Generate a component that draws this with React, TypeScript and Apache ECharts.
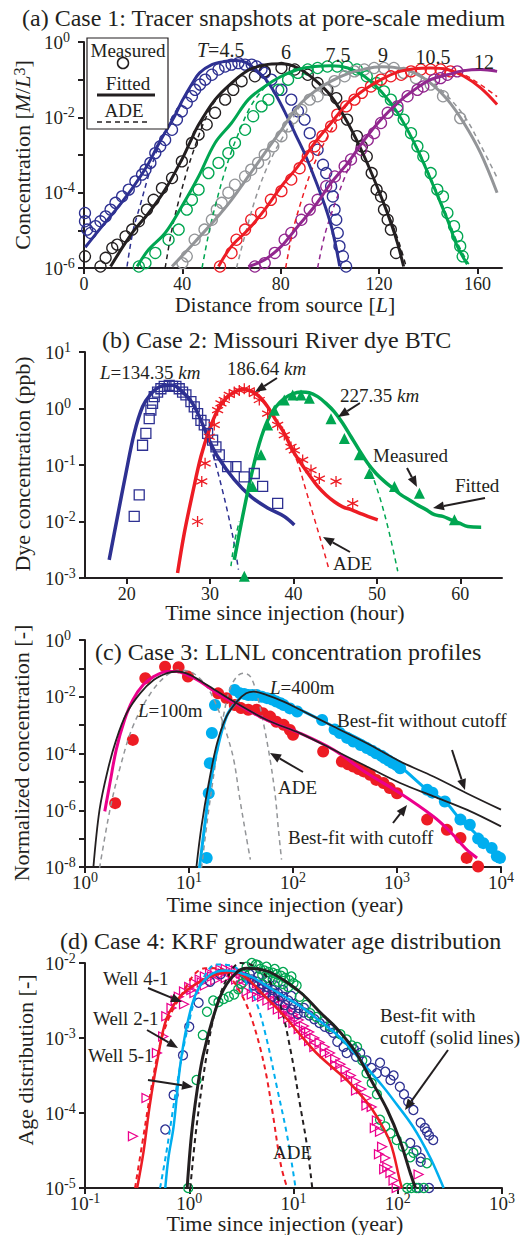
import React, { useEffect, useRef } from 'react';
import * as echarts from 'echarts';

const SERIF = '"Liberation Serif", "Times New Roman", Times, serif';
const INK = '#231f20';
const BLUE = '#2e3192';
const GREEN = '#00a651';
const GRAY = '#939598';
const RED = '#ed1c24';
const PURPLE = '#92278f';
const MAGENTA = '#ec008c';
const CYAN = '#00aeef';

// ---------- Panel (a): [distance, log10(concentration)] ----------
const aXTicks = [0, 40, 80, 120, 160];
const aTimeLabels = ['4.5', '6', '7.5', '9', '10.5', '12'];
const aBlueFit = [[0.5,-5.45],[6,-5.0],[13,-4.45],[20,-3.85],[26,-3.25],[30,-2.75],[33,-2.4],[37,-1.95],[40,-1.55],[44,-1.1],[47,-0.82],[52,-0.6],[57,-0.52],[62,-0.49],[66,-0.55],[70,-0.75],[74,-1.0],[78,-1.4],[82,-1.9],[86,-2.45],[90,-3.0],[94,-3.65],[98,-4.35],[101,-5.0],[104,-5.95]];
const aBlueAde = [[17.5,-5.96],[20,-5.0],[23,-4.3],[26,-3.6],[29,-3.0],[32,-2.5],[35,-2.1],[40,-1.55],[44,-1.1],[47,-0.82],[52,-0.6],[57,-0.52],[62,-0.49],[66,-0.55],[70,-0.75],[74,-1.0],[78,-1.4],[82,-1.9],[86,-2.45],[90,-3.0],[94,-3.65],[98,-4.35],[101,-5.0],[104,-5.95]];
const aBlueMeas = [[0.4,-4.54],[0.4,-4.76],[1.3,-4.98],[2.7,-5.07],[4.7,-4.89],[6.7,-4.76],[8.8,-4.63],[10.8,-4.45],[12.8,-4.27],[15.5,-4.1],[18.2,-3.92],[20.9,-3.7],[23.6,-3.52],[25,-3.39],[27,-3.21],[29,-2.95],[31,-2.77],[33,-2.6],[35.8,-2.33],[37.8,-2.06],[39.8,-1.84],[41.8,-1.62],[43.9,-1.44],[45.2,-1.27],[47.2,-1.13],[49.3,-1.0],[52,-0.87],[54.7,-0.73],[57.4,-0.65],[60,-0.6],[62.8,-0.56],[65.5,-0.6],[68.2,-0.6],[70.2,-0.65],[72.2,-0.73],[73.5,-0.82],[76.2,-1.0],[80.3,-1.27],[84.3,-1.53],[87,-1.84],[89.7,-2.06],[91.8,-2.42],[95,-2.86],[97.2,-3.26],[98.5,-3.48],[100.5,-3.83],[101.2,-4.1],[101.9,-4.45],[102.6,-4.72],[103.2,-5.07],[103.9,-5.42],[105.3,-5.69],[106.6,-5.96]];
const aBlackFit = [[10.8,-5.96],[19.6,-5.07],[26.3,-4.54],[33,-3.92],[39.8,-3.12],[43,-2.68],[46.6,-2.2],[53.3,-1.53],[60,-1.09],[66.8,-0.75],[73.5,-0.61],[80.3,-0.58],[87,-0.69],[93.8,-1.0],[100.5,-1.44],[107.3,-2.15],[114,-3.04],[120.8,-4.1],[124.8,-4.8],[127.5,-5.34],[130,-5.96]];
const aBlackAde = [[33,-6],[36,-4.9],[39,-4.1],[42,-3.4],[45,-2.8],[48,-2.25],[52,-1.7],[56,-1.35],[60,-1.09],[66.8,-0.75],[73.5,-0.61],[80.3,-0.58],[87,-0.69],[93.8,-1.0],[100.5,-1.44],[107.3,-2.15],[114,-3.04],[120.8,-4.1],[125.5,-4.85],[128.5,-5.4],[131,-5.96]];
const aBlackMeas = [[0.4,-5.69],[6.7,-5.96],[8.8,-5.73],[11.5,-5.47],[13.5,-5.38],[16.9,-5.16],[19.6,-4.98],[22.3,-4.76],[25.6,-4.45],[28.3,-4.19],[31.7,-3.88],[35.8,-3.61],[39.8,-3.17],[43.9,-2.68],[46.6,-2.46],[49.9,-2.19],[53.3,-1.88],[57.4,-1.53],[60.7,-1.27],[64.1,-1.04],[69.5,-0.91],[73.5,-0.78],[80.3,-0.69],[85.7,-0.73],[91,-0.87],[95,-1.09],[99,-1.27],[102.6,-1.49],[107,-2.06],[111,-2.5],[113,-2.77],[115,-3.04],[117,-3.48],[119,-3.92],[120.8,-4.1],[122,-4.45],[123.5,-4.72],[124.8,-4.98],[126.9,-5.6]];
const aGreenFit = [[21.6,-5.96],[26.3,-5.51],[33,-5.07],[39.8,-4.36],[46.6,-3.57],[53.3,-2.68],[60,-2.15],[66.8,-1.53],[73.5,-1.18],[80.3,-0.91],[87,-0.73],[93.8,-0.65],[100.5,-0.63],[107.3,-0.69],[114,-0.91],[120.8,-1.31],[127.5,-1.88],[134.3,-2.68],[141,-3.65],[147.8,-4.72],[151.8,-5.42],[155.9,-5.9]];
const aGreenAde = [[48,-6],[51,-5],[54,-4.2],[57,-3.5],[60,-2.9],[63,-2.4],[67,-1.8],[71,-1.4],[75,-1.12],[80.3,-0.91],[87,-0.73],[93.8,-0.65],[100.5,-0.63],[107.3,-0.69],[114,-0.91],[120.8,-1.31],[127.5,-1.88],[134.3,-2.65],[141,-3.6],[147.8,-4.65],[152,-5.35],[156.5,-5.9]];
const aGreenMeas = [[22.3,-5.96],[25,-5.87],[29,-5.6],[34.4,-5.25],[38.5,-4.98],[41.8,-4.45],[43.9,-4.19],[46.6,-3.92],[50.6,-3.48],[54.7,-3.21],[58.7,-2.95],[61.4,-2.68],[65.5,-2.33],[68.8,-1.97],[72.2,-1.71],[75,-1.53],[79,-1.27],[83,-1.0],[87,-0.82],[91,-0.73],[95,-0.69],[99,-0.65],[103,-0.65],[107,-0.65],[111,-0.73],[115,-0.91],[119,-1.09],[122,-1.31],[124.8,-1.53],[127.5,-1.8],[130,-2.06],[133,-2.42],[135.6,-2.77],[138,-3.04],[141,-3.48],[143.7,-3.92],[146,-4.1],[147.8,-4.54],[150.5,-4.89],[151.8,-5.16],[153,-5.42],[154,-5.69]];
const aGrayFit = [[35.8,-5.96],[41,-5.6],[46.6,-5.2],[53.3,-4.72],[60,-4.19],[66.8,-3.57],[73.5,-2.95],[80.3,-2.33],[87,-1.71],[93.8,-1.31],[100.5,-1.04],[107.3,-0.84],[114,-0.72],[120.8,-0.66],[127.5,-0.69],[134.3,-0.82],[141,-1.09],[147.8,-1.53],[154.5,-2.15],[161.3,-2.95],[168,-4.0]];
const aGrayAde = [[62,-6],[66,-5],[70,-4.1],[74,-3.4],[78,-2.85],[82,-2.4],[86,-1.9],[90,-1.5],[93.8,-1.31],[100.5,-1.04],[107.3,-0.84],[114,-0.72],[120.8,-0.66],[127.5,-0.69],[134.3,-0.8],[141,-1.05],[148,-1.45],[155,-2.0],[161,-2.7],[168,-3.6]];
const aGrayMeas = [[40,-5.87],[41.8,-5.69],[45,-5.25],[49,-4.98],[52,-4.72],[54,-4.45],[56,-4.27],[58.7,-4.0],[61.4,-3.79],[65.5,-3.57],[68,-3.39],[70.8,-3.21],[73.5,-2.99],[77,-2.77],[80.3,-2.5],[83,-2.24],[85,-2.02],[88.4,-1.8],[91.8,-1.53],[95,-1.44],[98.5,-1.27],[101.9,-1.04],[106,-0.91],[110,-0.78],[114,-0.73],[118,-0.69],[122,-0.69],[126,-0.69],[130,-0.82],[135,-0.96],[141,-1.13],[146,-1.44],[153,-2.02]];
const aRedFit = [[54.7,-5.96],[60,-5.42],[66.8,-4.98],[73.5,-4.45],[80.3,-3.83],[87,-3.3],[93.8,-2.68],[100.5,-2.15],[107.3,-1.62],[114,-1.27],[120.8,-1.0],[127.5,-0.8],[134.3,-0.71],[141,-0.69],[147.8,-0.73],[154.5,-0.91],[161.3,-1.22],[168,-1.66]];
const aRedAde = [[82,-6],[85,-5],[88,-4.3],[92,-3.5],[96,-2.9],[100,-2.4],[104,-1.95],[108,-1.6],[114,-1.27],[120.8,-1.0],[127.5,-0.8],[134.3,-0.71],[141,-0.69],[147.8,-0.72],[155,-0.88],[161,-1.12],[168,-1.45]];
const aRedMeas = [[55.3,-5.96],[60,-5.6],[62,-5.25],[65.5,-4.98],[68,-4.72],[72,-4.54],[76,-4.19],[80.3,-3.96],[84.3,-3.65],[87.7,-3.35],[91,-3.04],[93.8,-2.77],[97,-2.5],[100.5,-2.24],[103,-1.93],[106.6,-1.71],[110,-1.53],[113,-1.35],[116.7,-1.18],[120.8,-1.0],[124.8,-0.91],[129,-0.87],[133,-0.78],[137,-0.73],[141,-0.73],[145,-0.73],[149,-0.78]];
const aPurpleFit = [[66.8,-5.96],[73.5,-5.78],[80.3,-5.42],[87,-4.89],[93.8,-4.36],[100.5,-3.74],[107.3,-3.21],[114,-2.6],[120.8,-2.06],[127.5,-1.62],[134.3,-1.27],[141,-1.0],[147.8,-0.87],[154.5,-0.76],[161.3,-0.73],[168,-0.78]];
const aPurpleAde = [[95,-6],[98,-5.1],[102,-4.3],[106,-3.6],[110,-3.0],[114,-2.6],[120.8,-2.06],[127.5,-1.62],[134.3,-1.27],[141,-1.0],[147.8,-0.86],[154.5,-0.75],[161.3,-0.72],[168,-0.76]];
const aPurpleMeas = [[69.5,-5.96],[73.5,-5.87],[77.6,-5.6],[81.6,-5.25],[84.3,-5.07],[88.4,-4.72],[91.8,-4.45],[95,-4.19],[98.5,-3.83],[102,-3.57],[106,-3.3],[108.6,-3.12],[112.7,-2.86],[115.4,-2.6],[118,-2.42],[120.8,-2.15],[123.5,-1.88],[127.5,-1.71],[131.6,-1.44],[135.6,-1.27],[138,-1.18],[142.4,-1.0],[145,-0.96],[147.8,-0.87],[151.8,-0.78]];

// ---------- Panel (b): [hour, log10(ppb)] ----------
const bXTicks = [20, 30, 40, 50, 60];
const bBlueFit = [[17.9,-2.68],[18.9,-1.91],[19.9,-1.15],[20.9,-0.44],[21.9,0.03],[22.9,0.26],[23.9,0.38],[24.9,0.41],[25.5,0.41],[26.5,0.32],[27.9,0.09],[28.9,-0.21],[29.9,-0.56],[30.9,-0.85],[32.9,-1.26],[34.9,-1.56],[36.9,-1.76],[38.9,-1.91],[40.1,-2.06]];
const bBlueAde = [[28.9,-0.21],[29.9,-0.6],[30.6,-0.95],[31.4,-1.4],[32.2,-1.9],[32.9,-2.4],[33.4,-2.85]];
const bBlueMeas = [[20.9,-1.91],[21.5,-1.53],[21.9,-0.65],[22.3,-0.44],[22.7,-0.18],[22.9,-0.03],[23.1,0.09],[23.3,0.21],[23.7,0.29],[24.1,0.35],[24.5,0.39],[25.1,0.41],[25.5,0.39],[25.9,0.39],[26.3,0.35],[26.7,0.29],[27.1,0.24],[27.7,0.12],[28.1,0.03],[28.5,-0.09],[28.9,-0.21],[29.3,-0.29],[29.7,-0.44],[30.3,-0.56],[30.7,-0.68],[31.1,-0.82],[32.1,-1.03],[33.1,-1.03],[34.1,-1.21],[35.3,-1.15],[36.3,-1.38],[38.1,-1.68]];
const bRedFit = [[26.1,-2.91],[26.9,-2.21],[27.9,-1.5],[28.9,-0.85],[29.9,-0.38],[30.9,-0.03],[31.9,0.18],[32.9,0.29],[33.9,0.34],[34.9,0.31],[35.9,0.21],[36.9,0.03],[37.9,-0.21],[38.9,-0.44],[39.9,-0.74],[40.9,-0.97],[41.9,-1.18],[42.9,-1.38],[43.9,-1.53],[44.9,-1.65],[45.9,-1.74],[46.9,-1.79],[47.9,-1.85],[48.9,-1.91],[50.1,-1.97]];
const bRedAde = [[39.9,-0.74],[40.6,-1.0],[41.5,-1.45],[42.5,-1.95],[43.5,-2.45],[44.2,-2.82]];
const bRedMeas = [[28.5,-2.0],[29,-1.29],[29.4,-0.97],[29.9,-0.5],[30.5,-0.29],[30.9,-0.03],[31.3,0.09],[31.7,0.15],[32.3,0.24],[32.9,0.29],[33.5,0.32],[34.1,0.35],[34.7,0.32],[35.3,0.26],[35.9,0.15],[36.9,-0.09],[38.1,-0.29],[38.9,-0.47],[39.7,-0.68],[40.1,-0.74],[41.1,-0.91],[42.1,-1.09],[43.1,-1.24],[45.1,-1.29],[47.1,-1.68]];
const bGreenFit = [[32.9,-2.68],[33.9,-1.91],[34.9,-1.21],[35.9,-0.62],[36.9,-0.21],[37.9,0.03],[38.9,0.18],[39.9,0.26],[40.9,0.29],[41.9,0.28],[42.9,0.21],[43.9,0.09],[44.9,-0.06],[45.9,-0.26],[46.9,-0.5],[47.9,-0.74],[48.9,-0.97],[49.9,-1.15],[50.9,-1.29],[51.9,-1.41],[52.9,-1.53],[53.9,-1.62],[54.9,-1.71],[55.9,-1.79],[56.9,-1.88],[57.9,-1.91],[58.9,-1.97],[59.9,-2.03],[60.9,-2.09],[62.5,-2.1]];
const bGreenAdeRise = [[32.5,-2.79],[32.9,-2.38],[33.5,-2.0]];
const bGreenAdeFall = [[48.9,-0.97],[49.5,-1.2],[50.4,-1.6],[51.4,-2.15],[52.5,-2.88]];
const bGreenMeas = [[34.1,-2.97],[35.1,-1.38],[36.1,-0.82],[36.9,-0.29],[37.7,-0.03],[38.9,0.15],[39.9,0.24],[40.9,0.24],[41.9,0.18],[44.5,-0.18],[46.1,-0.53],[47.9,-0.82],[49.1,-1.15],[52.1,-1.38],[55.1,-1.5],[59.3,-1.97]];

// ---------- Panel (c): [log10(year), log10(C)] ----------
const cMagentaFit = [[0.19,-6.04],[0.24,-5.04],[0.3,-3.87],[0.38,-2.82],[0.46,-2.11],[0.56,-1.58],[0.66,-1.29],[0.79,-1.11],[0.88,-1.11],[0.98,-1.23],[1.11,-1.47],[1.27,-1.88],[1.43,-2.2],[1.75,-2.82],[2.07,-3.29],[2.39,-3.87],[2.71,-4.69],[3.03,-5.4],[3.35,-6.22],[3.51,-6.75],[3.67,-7.39],[3.77,-7.68]];
const cBlack100 = [[0.08,-8.04],[0.14,-5.98],[0.22,-4.57],[0.3,-3.52],[0.4,-2.58],[0.53,-1.88],[0.66,-1.41],[0.79,-1.17],[0.88,-1.11],[1.01,-1.23],[1.17,-1.58],[1.43,-2.17],[1.75,-2.82],[2.07,-3.29],[2.39,-3.87],[2.71,-4.46],[3.03,-5.04],[3.35,-5.51],[3.67,-5.98],[4.0,-6.57]];
const cBlack400 = [[1.07,-8.04],[1.12,-6.57],[1.19,-5.04],[1.27,-3.64],[1.36,-2.7],[1.46,-2.17],[1.55,-1.88],[1.62,-1.82],[1.75,-1.94],[1.91,-2.17],[2.07,-2.46],[2.39,-3.05],[2.71,-3.64],[3.03,-4.28],[3.35,-4.81],[3.67,-5.4],[4.0,-5.98]];
const cCyanFit = [[1.1,-8.04],[1.15,-6.57],[1.2,-5.16],[1.27,-3.87],[1.36,-2.7],[1.46,-2.17],[1.55,-1.94],[1.68,-1.94],[1.91,-2.23],[2.07,-2.46],[2.39,-3.05],[2.71,-3.64],[3.03,-4.46],[3.29,-5.28],[3.46,-5.69],[3.61,-6.33],[3.75,-6.8],[3.83,-7.16],[3.93,-7.5],[4.0,-7.74]];
const cAde100 = [[0.14,-8.04],[0.24,-5.98],[0.34,-4.46],[0.46,-3.05],[0.63,-1.88],[0.79,-1.23],[0.91,-1.06],[1.04,-1.17],[1.17,-1.64],[1.27,-2.35],[1.36,-3.28],[1.43,-4.22],[1.49,-5.63],[1.55,-6.92],[1.59,-7.74]];
const cAde400 = [[1.12,-8.04],[1.19,-5.98],[1.27,-3.99],[1.33,-2.7],[1.39,-1.76],[1.46,-1.29],[1.52,-1.17],[1.59,-1.29],[1.65,-1.88],[1.71,-2.82],[1.78,-4.22],[1.83,-5.51],[1.86,-6.69],[1.89,-7.74]];
const cRedMeas = [[0.29,-5.75],[0.46,-3.52],[0.58,-1.35],[0.77,-0.94],[0.9,-0.96],[0.99,-1.29],[1.28,-1.88],[1.36,-2.05],[1.44,-2.29],[1.5,-2.4],[1.57,-2.46],[1.65,-2.46],[1.71,-2.58],[1.78,-2.7],[1.84,-2.88],[1.91,-2.99],[1.97,-3.17],[2.0,-3.34],[2.29,-3.93],[2.47,-4.28],[2.53,-4.38],[2.58,-4.46],[2.63,-4.55],[2.68,-4.63],[2.74,-4.75],[2.8,-4.93],[2.87,-5.04],[2.93,-5.22],[3.0,-5.4],[3.29,-6.33],[3.48,-6.69],[3.61,-6.98],[3.67,-7.68],[3.78,-7.98]];
const cCyanMeas = [[1.17,-7.68],[1.19,-5.4],[1.2,-4.34],[1.22,-3.28],[1.25,-2.29],[1.44,-1.76],[1.49,-1.88],[1.53,-1.9],[1.57,-1.94],[1.61,-1.94],[1.65,-1.94],[1.7,-2.0],[1.75,-2.05],[1.8,-2.1],[1.84,-2.17],[1.88,-2.23],[1.91,-2.29],[1.97,-2.41],[2.04,-2.52],[2.28,-2.82],[2.4,-3.15],[2.45,-3.28],[2.52,-3.45],[2.58,-3.58],[2.65,-3.7],[2.71,-3.81],[2.76,-3.9],[2.8,-3.99],[2.85,-4.08],[2.88,-4.16],[2.92,-4.25],[2.96,-4.34],[3.0,-4.42],[3.03,-4.52],[3.29,-5.28],[3.34,-5.38],[3.46,-5.69],[3.61,-6.33],[3.7,-6.51],[3.78,-7.0],[3.83,-7.16],[3.91,-7.33],[3.96,-7.62],[3.99,-7.68]];

// ---------- Panel (d): [log10(year), log10(age distribution)] ----------
const dRedFit = [[-0.5,-5.0],[-0.44,-4.53],[-0.38,-3.91],[-0.31,-3.33],[-0.22,-2.75],[-0.09,-2.45],[0.04,-2.3],[0.17,-2.2],[0.3,-2.14],[0.42,-2.12],[0.55,-2.2],[0.68,-2.38],[0.81,-2.56],[0.94,-2.75],[1.06,-2.95],[1.22,-3.2],[1.38,-3.4],[1.54,-3.6],[1.7,-3.85],[1.8,-4.05],[1.93,-4.4],[2.02,-4.9],[2.04,-5.0]];
const dRedAde = [[-0.52,-5.0],[-0.45,-4.4],[-0.38,-3.8],[-0.3,-3.2],[-0.2,-2.75],[-0.06,-2.39],[0.05,-2.15],[0.15,-2.07],[0.28,-2.07],[0.4,-2.2],[0.5,-2.42],[0.55,-2.56],[0.61,-2.79],[0.68,-3.13],[0.74,-3.5],[0.8,-4.0],[0.88,-4.7],[0.94,-5.0]];
const dCyanFit = [[-0.23,-5.0],[-0.2,-4.6],[-0.15,-4.18],[-0.09,-3.4],[-0.02,-2.82],[0.07,-2.39],[0.2,-2.16],[0.35,-2.1],[0.46,-2.12],[0.62,-2.2],[0.77,-2.33],[0.93,-2.46],[1.09,-2.6],[1.25,-2.77],[1.42,-2.96],[1.54,-3.13],[1.7,-3.39],[1.86,-3.65],[1.96,-3.83],[2.15,-4.19],[2.31,-4.59],[2.41,-4.9],[2.44,-5.0]];
const dCyanAde = [[-0.28,-5.0],[-0.22,-4.53],[-0.12,-3.64],[-0.02,-2.9],[0.1,-2.31],[0.26,-2.02],[0.42,-2.04],[0.55,-2.27],[0.65,-2.55],[0.74,-3.0],[0.84,-3.65],[0.94,-4.31],[1.02,-5.0]];
const dBlackFit = [[-0.02,-5.0],[0.02,-4.31],[0.07,-3.75],[0.13,-3.25],[0.23,-2.72],[0.33,-2.35],[0.46,-2.12],[0.55,-2.07],[0.66,-2.08],[0.77,-2.12],[0.93,-2.25],[1.09,-2.42],[1.25,-2.65],[1.42,-2.88],[1.54,-3.08],[1.61,-3.22],[1.76,-3.6],[1.9,-3.96],[2.02,-4.36],[2.12,-4.8],[2.17,-5.0]];
const dBlackAde = [[0.01,-5.0],[0.07,-4.18],[0.17,-3.2],[0.26,-2.58],[0.39,-2.13],[0.49,-2.0],[0.62,-2.04],[0.74,-2.18],[0.87,-2.55],[0.97,-3.15],[1.06,-3.87],[1.13,-4.44],[1.18,-5.0]];
const dWell41 = [[-0.54,-4.31],[-0.41,-3.8],[-0.31,-3.2],[-0.25,-2.98],[-0.22,-2.71],[-0.17,-2.6],[-0.13,-2.5],
  [-0.1,-2.45],[-0.05,-2.38],[0.0,-2.32],[0.05,-2.27],[0.1,-2.22],[0.15,-2.18],[0.2,-2.14],[0.25,-2.11],[0.3,-2.09],[0.35,-2.08],[0.4,-2.08],[0.45,-2.1],[0.5,-2.14],[0.55,-2.18],[0.6,-2.22],[0.65,-2.27],[0.7,-2.32],[0.75,-2.37],[0.8,-2.43],[0.85,-2.49],[0.9,-2.55],[0.95,-2.62],[1.0,-2.69],[1.05,-2.76],[1.1,-2.84],[1.15,-2.92],[1.2,-3.0],[1.25,-3.06],
  [-0.05,-2.55],[0.05,-2.4],[0.15,-2.3],[0.25,-2.23],[0.35,-2.2],[0.45,-2.22],[0.5,-2.3],[0.55,-2.38],[0.6,-2.42],[0.65,-2.45],[0.7,-2.45],[0.75,-2.5],[0.8,-2.56],[0.85,-2.62],[0.9,-2.68],[0.95,-2.74],[1.0,-2.8],[1.05,-2.88],[1.1,-2.96],[1.15,-3.04],[1.2,-3.12],
  [0.02,-2.36],[0.12,-2.26],[0.22,-2.18],[0.32,-2.14],[0.42,-2.15],[0.52,-2.22],[0.62,-2.32],[0.72,-2.4],[0.82,-2.5],[0.92,-2.62],[1.02,-2.74],[1.12,-2.9],
  [1.3,-3.12],[1.35,-3.2],[1.4,-3.28],[1.45,-3.35],[1.5,-3.42],[1.55,-3.5],[1.6,-3.58],[1.65,-3.68],[1.7,-3.8],[1.75,-3.92],[1.8,-4.1],[1.83,-4.25],[1.85,-4.45],[1.88,-4.6],[1.9,-4.72],[1.93,-4.8],[1.96,-4.9],[2.2,-4.82],
  [1.3,-3.2],[1.4,-3.36],[1.5,-3.52],[1.6,-3.7],[1.7,-3.9],[1.78,-4.2],[1.82,-4.55],[1.87,-4.75],[1.99,-5.0]];
const dWell21 = [[-0.23,-4.22],[-0.15,-3.76],[-0.06,-3.23],[0.0,-2.85],[0.09,-2.53],[0.2,-2.25],[0.3,-2.15],
  [0.55,-2.2],[0.6,-2.22],[0.65,-2.25],[0.7,-2.28],[0.75,-2.32],[0.8,-2.36],[0.85,-2.4],[0.9,-2.45],[0.95,-2.5],[1.0,-2.55],[1.05,-2.6],[1.1,-2.66],
  [0.62,-2.3],[0.68,-2.35],[0.74,-2.4],[0.8,-2.45],[0.86,-2.5],[0.92,-2.56],[0.98,-2.62],[1.04,-2.68],
  [0.58,-2.15],[0.66,-2.18],[0.74,-2.24],[0.82,-2.3],[0.9,-2.36],[0.98,-2.44],
  [1.15,-2.7],[1.2,-2.75],[1.25,-2.8],[1.3,-2.85],[1.38,-2.93],[1.42,-3.05],[1.48,-3.12],[1.51,-3.2],[1.58,-3.15],[1.64,-3.2],[1.7,-3.3],[1.75,-3.4],[1.8,-3.47],[1.83,-3.33],[1.88,-3.45],[1.93,-3.56],[1.96,-3.5],[2.02,-3.65],[2.06,-3.75],[2.1,-3.85],[2.15,-3.96],[2.22,-4.13],[2.26,-4.2],[2.3,-4.3],[2.34,-4.36],[2.28,-4.25],[2.12,-4.4],[2.18,-4.5],[2.22,-4.6],[2.22,-4.65],[2.2,-5.0],[2.3,-5.0],[1.1,-2.6],[1.35,-2.88],[1.6,-3.25]];
const dWell51 = [[-0.01,-5.0],[0.07,-3.56],[0.13,-2.96],[0.17,-2.65],[0.23,-2.5],[0.28,-2.52],[0.33,-2.48],[0.38,-2.45],[0.43,-2.42],[0.47,-2.35],[0.5,-2.28],[0.53,-2.15],[0.55,-2.05],[0.6,-2.0],[0.64,-2.02],
  [0.68,-2.08],[0.72,-2.1],[0.76,-2.12],[0.8,-2.13],[0.84,-2.15],[0.88,-2.17],[0.92,-2.2],[0.96,-2.23],[1.0,-2.27],[1.03,-2.3],[0.7,-2.16],[0.75,-2.2],[0.8,-2.22],[0.85,-2.25],[0.9,-2.28],[0.95,-2.32],[0.66,-2.03],[0.74,-2.05],[0.82,-2.08],[0.9,-2.12],[0.98,-2.18],
  [1.06,-2.45],[1.12,-2.56],[1.16,-2.67],[1.22,-2.72],[1.28,-2.78],[1.35,-2.85],[1.45,-2.95],[1.51,-3.02],[1.56,-3.1],[1.61,-3.12],[1.66,-3.3],[1.7,-3.47],[1.75,-3.6],[1.8,-3.75],[1.83,-4.09],[1.88,-4.18],[1.93,-4.27],[1.99,-4.36],[2.05,-4.45],[2.12,-4.59],[2.15,-4.53],[2.28,-4.67],[2.09,-5.0],[2.13,-5.0],[2.18,-5.0],[2.25,-5.0]];

// ---------- helpers ----------
const lin = (arr: number[][]) => arr.map(([x, e]) => [x, Math.pow(10, e)]);
const lg = (arr: number[][]) => arr.map(([a, e]) => [Math.pow(10, a), Math.pow(10, e)]);

const AX_LINE = { show: true, onZero: false, lineStyle: { color: INK, width: 2 } };
const AX_TICK = { show: true, inside: false, length: 6, lineStyle: { color: INK, width: 2 } };
const RICH = {
  b: { fontFamily: SERIF, fontSize: 19, color: INK, lineHeight: 24 },
  s: { fontFamily: SERIF, fontSize: 14, color: INK, lineHeight: 12, verticalAlign: 'top' },
};
const expLabel = (every: number) => (v: number) => {
  const e = Math.round(Math.log10(v));
  if (e % every !== 0) return '';
  return `{b|10}{s|${e}}`;
};
const yLog = (g: number, min: number, max: number, every: number) => ({
  type: 'log', logBase: 10, gridIndex: g, min, max,
  axisLine: AX_LINE, axisTick: AX_TICK, splitLine: { show: false },
  axisLabel: { formatter: expLabel(every), align: 'left', margin: 40, rich: RICH, hideOverlap: false },
});
const xLog = (g: number, min: number, max: number) => ({
  type: 'log', logBase: 10, gridIndex: g, min, max,
  axisLine: AX_LINE, axisTick: AX_TICK, splitLine: { show: false },
  axisLabel: { formatter: expLabel(1), margin: 3, rich: RICH, hideOverlap: false },
});
const xLin = (g: number, min: number, max: number, ticks: number[]) => ({
  type: 'value', gridIndex: g, min, max,
  axisLine: AX_LINE,
  axisTick: { ...AX_TICK, customValues: ticks },
  splitLine: { show: false },
  axisLabel: { customValues: ticks, margin: 7, fontFamily: SERIF, fontSize: 18, color: INK, hideOverlap: false },
});

const line = (g: number, data: number[][], color: string, width: number, dashed = false, z = 3) => ({
  type: 'line', xAxisIndex: g, yAxisIndex: g, data, symbol: 'none', showSymbol: false,
  smooth: 0.35, silent: true, z,
  lineStyle: { color, width, type: dashed ? [5, 4] : 'solid' },
});
const scat = (g: number, data: number[][], symbol: string, size: number, color: string, filled: boolean, rotate = 0, z = 2) => ({
  type: 'scatter', xAxisIndex: g, yAxisIndex: g, data, symbol, symbolSize: size, symbolRotate: rotate, silent: true, z,
  itemStyle: filled ? { color, opacity: 1 } : { color: 'rgba(0,0,0,0)', borderColor: color, borderWidth: 1.3, opacity: 1 },
});

const GRICH = (size: number) => ({
  i: { fontFamily: SERIF, fontSize: size, fontStyle: 'italic', fill: INK },
  s: { fontFamily: SERIF, fontSize: Math.round(size * 0.72), fill: INK, verticalAlign: 'top', lineHeight: Math.round(size * 0.7) },
});
const T = (x: number, y: number, text: string, size = 19, align = 'left', rotation = 0) => ({
  type: 'text', x, y, rotation, silent: true, z: 100,
  style: { text, fontFamily: SERIF, fontSize: size, fill: INK, align, verticalAlign: 'middle', rich: GRICH(size) },
});
const arrow = (x1: number, y1: number, x2: number, y2: number) => {
  const ang = Math.atan2(y2 - y1, x2 - x1);
  const L = 11, W = 4.5;
  const bx = x2 - L * Math.cos(ang), by = y2 - L * Math.sin(ang);
  const px = -Math.sin(ang) * W, py = Math.cos(ang) * W;
  return [
    { type: 'line', silent: true, z: 100, shape: { x1, y1, x2: bx, y2: by }, style: { stroke: INK, lineWidth: 2 } },
    { type: 'polygon', silent: true, z: 100, shape: { points: [[x2, y2], [bx + px, by + py], [bx - px, by - py]] }, style: { fill: INK } },
  ];
};

const ASTERISK = 'path://M0,-5L0,5M-4.33,-2.5L4.33,2.5M-4.33,2.5L4.33,-2.5';

export default function App() {
  const ref = useRef<HTMLDivElement>(null);
  useEffect(() => {
    if (!ref.current) return;
    const chart = echarts.init(ref.current, null, { renderer: 'svg' });
    const graphic: any[] = [
      // Titles
      T(22, 18, '(a) Case 1: Tracer snapshots at pore-scale medium', 24),
      T(102, 340, '(b) Case 2: Missouri River dye BTC', 24),
      T(95, 652, '(c) Case 3: LLNL concentration profiles', 24),
      T(60, 941, '(d) Case 4: KRF groundwater age distribution', 24),
      // Axis names
      T(22, 155, 'Concentration [{i|M}/{i|L}{s|3}]', 22, 'center', Math.PI / 2),
      T(285, 304, 'Distance from source [{i|L}]', 22, 'center'),
      T(22, 464, 'Dye concentration (ppb)', 22, 'center', Math.PI / 2),
      T(285, 612, 'Time since injection (hour)', 22, 'center'),
      T(21, 753, 'Normalized concentration [-]', 22, 'center', Math.PI / 2),
      T(285, 904, 'Time since injection (year)', 22, 'center'),
      T(25, 1060, 'Age distribution [-]', 22, 'center', Math.PI / 2),
      T(285, 1223, 'Time since injection (year)', 22, 'center'),
      // Panel (a) legend
      { type: 'rect', silent: true, z: 99, shape: { x: 87, y: 38, width: 81, height: 91 }, style: { fill: '#fff', stroke: INK, lineWidth: 1.2 } },
      T(128, 50, 'Measured', 19, 'center'),
      { type: 'circle', silent: true, z: 100, shape: { cx: 123, cy: 63, r: 5.5 }, style: { fill: 'none', stroke: INK, lineWidth: 1.5 } },
      T(128, 83, 'Fitted', 19, 'center'),
      { type: 'line', silent: true, z: 100, shape: { x1: 97, y1: 95, x2: 155, y2: 95 }, style: { stroke: INK, lineWidth: 3 } },
      T(124, 110, 'ADE', 19, 'center'),
      { type: 'line', silent: true, z: 100, shape: { x1: 97, y1: 122, x2: 147, y2: 122 }, style: { stroke: INK, lineWidth: 1.5, lineDash: [5, 4] } },
      // Panel (a) time labels
      T(197, 50, `{i|T}=${aTimeLabels[0]}`, 20),
      T(286, 52, aTimeLabels[1], 20, 'center'),
      T(338, 55, aTimeLabels[2], 20, 'center'),
      T(383, 55, aTimeLabels[3], 20, 'center'),
      T(433, 57, aTimeLabels[4], 20, 'center'),
      T(484, 62, aTimeLabels[5], 20, 'center'),
      // Panel (b) annotations
      T(100, 372, '{i|L}=134.35 {i|km}', 19),
      T(227, 368, '186.64 {i|km}', 19),
      T(340, 395, '227.35 {i|km}', 19),
      ...arrow(277, 378, 255, 392),
      ...arrow(360, 403, 338, 417),
      T(373, 455, 'Measured', 19),
      ...arrow(407, 468, 417, 487),
      T(455, 485, 'Fitted', 19),
      ...arrow(485, 498, 433, 508),
      T(333, 563, 'ADE', 19),
      ...arrow(350, 552, 323, 537),
      // Panel (c) annotations
      T(270, 687, '{i|L}=400m', 19),
      T(138, 710, '{i|L}=100m', 19),
      T(337, 720, 'Best-fit without cutoff', 19),
      ...arrow(452, 750, 465, 790),
      T(278, 787, 'ADE', 19),
      ...arrow(303, 772, 270, 753),
      T(288, 837, 'Best-fit with cutoff', 19),
      ...arrow(393, 823, 407, 805),
      // Panel (d) annotations
      T(103, 978, 'Well 4-1', 19),
      ...arrow(148, 988, 182, 1002),
      T(93, 1018, 'Well 2-1', 19),
      ...arrow(147, 1030, 178, 1048),
      T(88, 1055, 'Well 5-1', 19),
      ...arrow(148, 1080, 193, 1087),
      T(273, 1152, 'ADE', 19),
      T(380, 1015, 'Best-fit with', 19),
      T(380, 1037, 'cutoff (solid lines)', 19),
      ...arrow(448, 1050, 405, 1110),
    ];

    const series: any[] = [
      // (a)
      scat(0, lin(aBlueMeas), 'circle', 11, BLUE, false),
      scat(0, lin(aBlackMeas), 'circle', 11, INK, false),
      scat(0, lin(aGreenMeas), 'circle', 11, GREEN, false),
      scat(0, lin(aGrayMeas), 'circle', 11, GRAY, false),
      scat(0, lin(aRedMeas), 'circle', 11, RED, false),
      scat(0, lin(aPurpleMeas), 'circle', 11, PURPLE, false),
      line(0, lin(aBlueAde), BLUE, 1.5, true),
      line(0, lin(aBlackAde), INK, 1.5, true),
      line(0, lin(aGreenAde), GREEN, 1.5, true),
      line(0, lin(aGrayAde), GRAY, 1.5, true),
      line(0, lin(aRedAde), RED, 1.5, true),
      line(0, lin(aPurpleAde), PURPLE, 1.5, true),
      line(0, lin(aBlueFit), BLUE, 3),
      line(0, lin(aBlackFit), INK, 3),
      line(0, lin(aGreenFit), GREEN, 3),
      line(0, lin(aGrayFit), GRAY, 3),
      line(0, lin(aRedFit), RED, 3),
      line(0, lin(aPurpleFit), PURPLE, 3),
      // (b)
      line(1, lin(bBlueAde), BLUE, 1.5, true),
      line(1, lin(bRedAde), RED, 1.5, true),
      line(1, lin(bGreenAdeRise), GREEN, 1.5, true),
      line(1, lin(bGreenAdeFall), GREEN, 1.5, true),
      line(1, lin(bBlueFit), BLUE, 3.5),
      line(1, lin(bRedFit), RED, 3.5),
      line(1, lin(bGreenFit), GREEN, 3.5),
      scat(1, lin(bBlueMeas), 'rect', 10, BLUE, false, 0, 4),
      scat(1, lin(bRedMeas), ASTERISK, 11, RED, false, 0, 4),
      scat(1, lin(bGreenMeas), 'triangle', 11, GREEN, true, 0, 4),
      // (c)
      line(2, lg(cAde100), GRAY, 1.5, true),
      line(2, lg(cAde400), GRAY, 1.5, true),
      line(2, lg(cCyanFit), CYAN, 3),
      line(2, lg(cMagentaFit), MAGENTA, 3),
      scat(2, lg(cRedMeas), 'circle', 12, RED, true, 0, 2),
      scat(2, lg(cCyanMeas), 'circle', 12, CYAN, true, 0, 2),
      line(2, lg(cBlack100), INK, 1.8, false, 4),
      line(2, lg(cBlack400), INK, 1.8, false, 4),
      // (d)
      scat(3, lg(dWell41), 'triangle', 9, MAGENTA, false, -90),
      scat(3, lg(dWell21), 'circle', 9, BLUE, false),
      scat(3, lg(dWell51), 'circle', 9, GREEN, false),
      line(3, lg(dRedAde), RED, 2, true),
      line(3, lg(dCyanAde), CYAN, 2, true),
      line(3, lg(dBlackAde), INK, 2, true),
      line(3, lg(dRedFit), RED, 2.5),
      line(3, lg(dCyanFit), CYAN, 2.5),
      line(3, lg(dBlackFit), INK, 3),
    ];

    chart.setOption({
      animation: false,
      backgroundColor: '#fff',
      textStyle: { fontFamily: SERIF },
      grid: [
        { left: 84, top: 42, width: 418, height: 226, containLabel: false, outerBoundsMode: 'none' },
        { left: 85, top: 352, width: 417, height: 226, containLabel: false, outerBoundsMode: 'none' },
        { left: 85, top: 640, width: 416, height: 227, containLabel: false, outerBoundsMode: 'none' },
        { left: 85, top: 963, width: 417, height: 225, containLabel: false, outerBoundsMode: 'none' },
      ],
      xAxis: [
        xLin(0, 0, 170, aXTicks),
        xLin(1, 15, 65, bXTicks),
        xLog(2, 1, 10000),
        xLog(3, 0.1, 1000),
      ],
      yAxis: [
        yLog(0, 1e-6, 1, 2),
        yLog(1, 1e-3, 10, 1),
        yLog(2, 1e-8, 1, 2),
        yLog(3, 1e-5, 1e-2, 1),
      ],
      series,
      graphic,
    });
    return () => chart.dispose();
  }, []);
  return <div ref={ref} style={{ position: 'absolute', left: 0, top: 0, width: 525, height: 1235 }} />;
}
